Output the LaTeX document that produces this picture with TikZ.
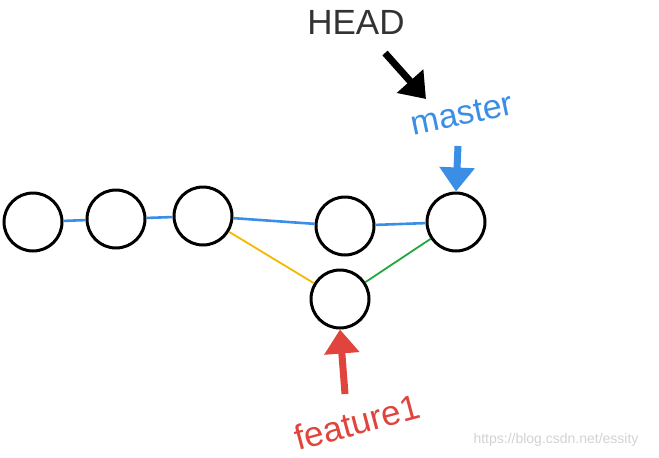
\documentclass[tikz,border=0pt]{standalone}
\usepackage{fontspec}
\setmainfont{Liberation Sans}
\usetikzlibrary{arrows.meta}
\definecolor{gblue}{HTML}{3A8EE6}
\definecolor{gred}{HTML}{E0443C}
\definecolor{gyellow}{HTML}{F5B800}
\definecolor{ggreen}{HTML}{22A63F}
\definecolor{wm}{HTML}{D2D2D2}
\begin{document}
\begin{tikzpicture}[x=1pt,y=-1pt,
  commit/.style={circle,draw=black,line width=3pt,minimum size=58pt,inner sep=0pt},
  link/.style={gblue,line width=2.6pt},
  ptr/.style={line width=7pt,-{Triangle[length=24pt,width=34pt]}},
  lbl/.style={inner sep=0pt,font=\fontsize{34}{38}\selectfont}]
\useasboundingbox (0,0) rectangle (659,458);
\node[commit] (c1) at (33,222) {};
\node[commit] (c2) at (116,219) {};
\node[commit] (c3) at (203,216) {};
\node[commit] (c4) at (345,226) {};
\node[commit] (c5) at (456,222) {};
\node[commit] (c6) at (340,299) {};
\draw[link] (c1) -- (c2);
\draw[link] (c2) -- (c3);
\draw[link] (c3) -- (c4);
\draw[link] (c4) -- (c5);
\draw[gyellow,line width=1.8pt] (c3) -- (c6);
\draw[ggreen,line width=1.8pt] (c6) -- (c5);
\node[lbl,font=\fontsize{35}{40}\selectfont,text=black!80] (head) at (356,22) {HEAD};
\node[lbl,text=gblue,rotate=12] (master) at (462,114) {master};
\node[lbl,text=gred,rotate=15,font=\fontsize{35}{40}\selectfont] (feat) at (357,422) {feature1};
\coordinate (hs) at (385,53);
\coordinate (bs) at (458,146);
\coordinate (rs) at (345,394);
\draw[ptr,black] (hs) -- (426,99);
\draw[ptr,gblue] (bs) -- (c5.north);
\draw[ptr,gred] (rs) -- (c6.south);
\node[inner sep=0pt,text=wm,font=\fontsize{14}{16}\selectfont] (wmk) at (556,440) {https://blog.csdn.net/essity};
\end{tikzpicture}
\end{document}
